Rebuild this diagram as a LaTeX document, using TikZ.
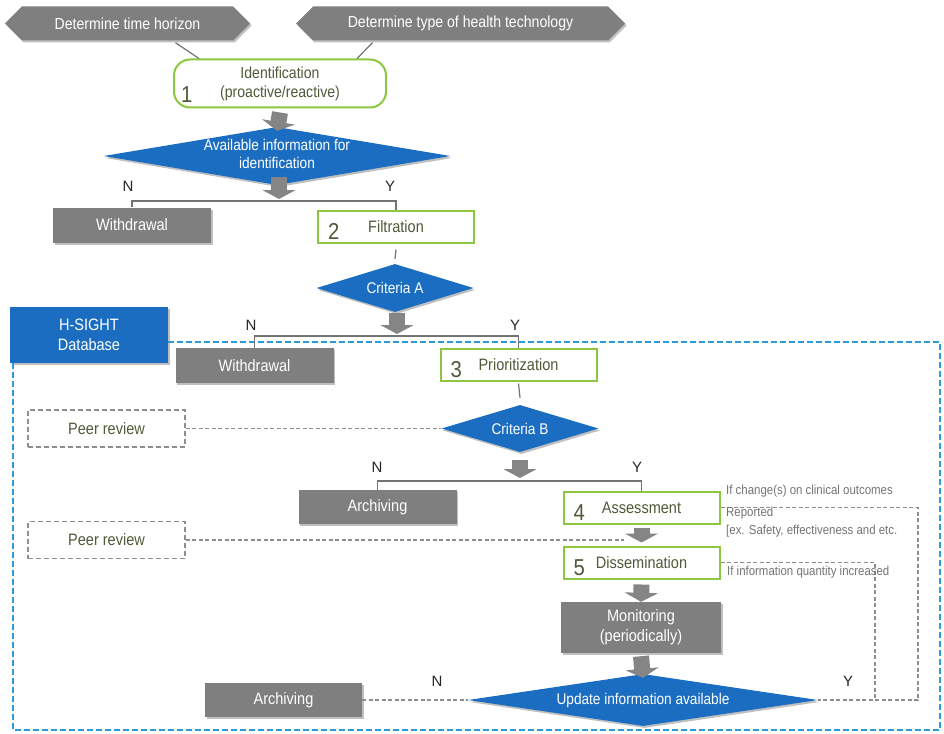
\documentclass[tikz,border=0pt]{standalone}
\usepackage{fontspec}
\setmainfont{Liberation Sans}[FakeStretch=0.88]
\usetikzlibrary{shapes.geometric,shapes.symbols,arrows.meta,shadows,calc}

\definecolor{boxgray}{HTML}{7F7F7F}
\definecolor{flowblue}{HTML}{1B6DC1}
\definecolor{leafgreen}{HTML}{8DC63F}
\definecolor{olivetext}{HTML}{4E5A38}
\definecolor{dbblue}{HTML}{2D9BD8}
\definecolor{linegray}{HTML}{8E8E8E}
\definecolor{arrowgray}{HTML}{858585}

\tikzset{
  softshadow/.style={drop shadow={shadow xshift=1.5pt, shadow yshift=-2pt, opacity=0.25, fill=black}},
  hexbox/.style={signal, signal to=west and east, signal pointer angle=90,
    fill=boxgray, text=white, inner sep=0pt, minimum height=34, font=\fontsize{16}{18}\selectfont, softshadow},
  graybox/.style={rectangle, fill=boxgray, text=white, inner sep=0pt, minimum width=158, minimum height=35,
    font=\fontsize{16.5}{20}\selectfont, align=center, softshadow},
  stepbox/.style={rectangle, draw=leafgreen, line width=2pt, fill=white, text=olivetext, inner sep=0pt,
    minimum width=156, minimum height=32, font=\fontsize{16.5}{19}\selectfont, align=center},
  decision/.style={diamond, fill=flowblue, inner sep=0pt, softshadow},
  decisiontext/.style={text=white, align=center, font=\fontsize{15.5}{18}\selectfont},
  peerbox/.style={rectangle, draw=linegray, line width=1.5pt, dash pattern=on 5pt off 3pt, text=olivetext,
    minimum width=157, minimum height=37, inner sep=0pt, font=\fontsize{16.5}{19}\selectfont},
  stepnum/.style={text=olivetext, font=\fontsize{23}{23}\selectfont, inner sep=0pt, anchor=base west},
  yn/.style={font=\fontspec{Liberation Sans}\fontsize{15}{15}\selectfont, text=black!85, inner sep=0pt},
  note/.style={text=black!55, font=\fontsize{13}{18}\selectfont, align=left, inner sep=0pt, anchor=north west},
  bigarrow/.style={draw=arrowgray, line width=16pt, -{Triangle[width=33pt,length=9pt]}},
  branch/.style={draw=black!55, line width=1.2pt},
  dashlink/.style={draw=linegray, line width=1.2pt, dash pattern=on 4pt off 2.5pt},
}

\begin{document}
\begin{tikzpicture}[x=1pt,y=-1pt]
\useasboundingbox (0,0) rectangle (944,733);

% --- stage 1: identification -------------------------------------------
\node[hexbox, minimum width=245] (horizon) at (127.5,23.5) {Determine time horizon};
\node[hexbox, minimum width=329] (techtype) at (460.5,23.5) {Determine type of health technology};

\node[stepbox, rounded corners=16pt, minimum width=212, minimum height=48,
  font=\fontsize{16}{19}\selectfont] (ident) at (280,83.5)
  {Identification\\(proactive/reactive)};
\node[stepnum] at ($(ident.south west)+(8,-6)$) {1};

\coordinate (horizonfoot) at ($(horizon.south)+(48,2)$);
\coordinate (techfoot) at ($(techtype.south)+(-88,2)$);
\draw[branch] (horizonfoot) -- ($(ident.north west)+(26,0)$);
\draw[branch] (techfoot) -- ($(ident.north east)+(-30,0)$);

\node[decision, minimum width=347, minimum height=58] (avail) at (277,156) {};
\node[decisiontext] at ($(avail.center)+(0,-2)$) {Available information for\\identification};

\draw[bigarrow] ($(ident.south)+(0,4)$) -- ($(avail.north)+(0,4)$);

% --- stage 2: filtration ------------------------------------------------
\node[graybox] (withdraw1) at (132,225) {Withdrawal};
\node[stepbox] (filt) at (396,226.5) {Filtration};
\node[stepnum] at ($(filt.south west)+(11,-4)$) {2};

\coordinate (split1) at (279,201);
\draw[bigarrow] ($(avail.south)+(2,-8)$) -- ($(split1)+(0,-2)$);
\draw[branch] (withdraw1.north) |- (split1) -| (filt.north);
\node[yn] at (128,186) {N};
\node[yn] at (390,186) {Y};

\node[decision, minimum width=157, minimum height=48] (critA) at (395,288) {};
\node[decisiontext] at (critA.center) {Criteria A};
\draw[branch] ($(filt.south)+(0,6)$) -- ($(critA.north)+(0,-5)$);

% --- database frame -------------------------------------------------------
\node[rectangle, fill=flowblue, text=white, minimum width=158, minimum height=56, inner sep=0pt,
  align=center, font=\fontsize{16.5}{20}\selectfont, softshadow] (db) at (89,335) {H-SIGHT\\Database};
\draw[dbblue, line width=2.5pt, dash pattern=on 6pt off 3pt]
  (db.east |- 0,342) -- (940,342) -- (940,730) -- (13,730) -- (db.south -| 13,0);

% --- stage 3: prioritization ---------------------------------------------
\node[graybox] (withdraw2) at (254.5,365.5) {Withdrawal};
\node[stepbox] (prio) at (518.5,364.5) {Prioritization};
\node[stepnum] at ($(prio.south west)+(11,-4)$) {3};

\coordinate (split2) at (397,336);
\draw[bigarrow] ($(critA.south)+(2,1)$) -- ($(split2)+(0,-2)$);
\draw[branch] (withdraw2.north) |- (split2) -| (prio.north);
\node[yn] at (251,325) {N};
\node[yn] at (515,325) {Y};

\node[decision, minimum width=157, minimum height=47] (critB) at (520,428.5) {};
\node[decisiontext] at (critB.center) {Criteria B};
\draw[branch] ($(prio.south)+(0,2)$) -- ($(critB.north)+(0,-7)$);

\node[peerbox] (peer1) at (106.5,428.5) {Peer review};
\draw[dashlink] (peer1.east) -- (peer1.east -| critB.west);

% --- stage 4/5: assessment and dissemination ----------------------------
\node[graybox, minimum height=34] (arch1) at (377.5,507) {Archiving};
\node[stepbox] (assess) at (641.5,507.5) {Assessment};
\node[stepnum] at ($(assess.south west)+(11,-4)$) {4};

\coordinate (split3) at (520,481);
\draw[bigarrow] ($(critB.south)+(0,8)$) -- ($(split3)+(0,-3)$);
\draw[branch] (arch1.north) |- (split3) -| (assess.north);
\node[yn] at (377,467) {N};
\node[yn] at (637,467) {Y};

\node[stepbox] (dissem) at (641.5,562.5) {Dissemination};
\node[stepnum] at ($(dissem.south west)+(11,-4)$) {5};
\draw[bigarrow] ($(assess.south)+(0,3)$) -- ($(dissem.north)+(0,-3)$);

\node[peerbox] (peer2) at (106.5,540) {Peer review};
\coordinate (peer2end) at (624,540);
\draw[dashlink] (peer2.east) -- (peer2end);

\node[graybox, minimum width=160, minimum height=51] (monitor) at (641,627.5)
  {Monitoring\\(periodically)};
\draw[bigarrow] ($(dissem.south)+(0,5)$) -- ($(monitor.north)+(0,0)$);

\node[decision, minimum width=350, minimum height=52] (update) at (643,700) {};
\node[decisiontext] at (update.center) {Update information available};
\draw[bigarrow] ($(monitor.south)+(0,3)$) -- ($(update.north)+(0,4)$);

\node[graybox, minimum width=157, minimum height=34] (arch2) at (283.5,700) {Archiving};
\draw[dashlink] (arch2.east) -- (update.west);
\node[yn] at (437,681) {N};
\node[yn] at (848,681) {Y};

% feedback loops into the update decision
\coordinate (loopouter) at (918,700);
\coordinate (loopinner) at (875,700);
\draw[dashlink] (assess.east) -| (loopouter) -- (update.east);
\draw[dashlink] (dissem.east) -| (loopinner);

\node[note] (assessnote) at (726,485) {If change(s) on clinical outcomes\\[4pt]Reported\\{}[ex. Safety, effectiveness and etc.};
\node[note] (dissemnote) at (727,566) {If information quantity increased};

\end{tikzpicture}
\end{document}
